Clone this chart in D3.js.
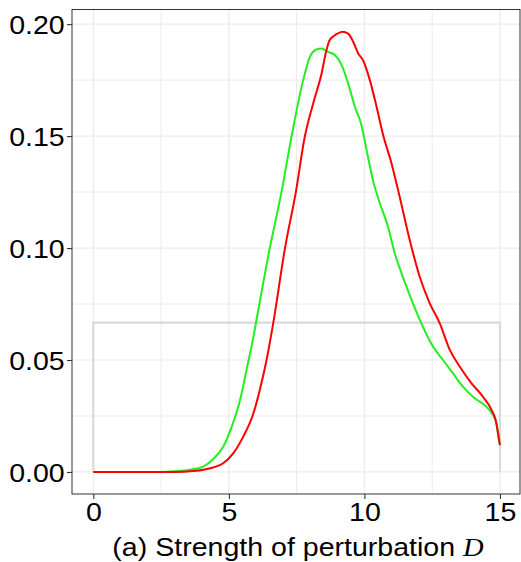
<!DOCTYPE html>
<html>
<head>
<meta charset="utf-8">
<title>Strength of perturbation D</title>
<script src="https://d3js.org/d3.v7.min.js"></script>
<style>
body { margin: 0; padding: 0; background: #fff; }
</style>
</head>
<body>
<div id="chart"></div>
<script>
// density estimates
var greenX = [0, 2.5, 3.0, 3.56, 4.05, 4.42, 4.79, 5.10, 5.41, 5.65, 5.90, 6.02, 6.51, 6.94, 7.31, 7.74, 7.99, 8.23, 8.42, 8.66, 8.91, 9.16, 9.40, 9.65, 9.89, 10.08, 10.32, 10.57, 10.87, 11.12, 11.37, 11.67, 12.10, 12.53, 12.9, 13.27, 13.64, 14.07, 14.5, 14.74, 14.87, 14.97, 15.0];
var greenY = [0, 0, 0.0003, 0.001, 0.0024, 0.0057, 0.0113, 0.020, 0.032, 0.0455, 0.060, 0.068, 0.1, 0.125, 0.1497, 0.175, 0.1854, 0.1887, 0.1891, 0.1876, 0.1862, 0.1817, 0.1735, 0.163, 0.155, 0.1438, 0.130, 0.120, 0.1095, 0.0976, 0.0887, 0.079, 0.0664, 0.056, 0.050, 0.044, 0.038, 0.0329, 0.0292, 0.0254, 0.0217, 0.0135, 0.012];

var redX = [0, 3.0, 3.69, 4.42, 4.79, 5.16, 5.53, 5.90, 6.14, 6.39, 6.63, 7.07, 7.47, 7.80, 8.11, 8.42, 8.60, 8.72, 8.97, 9.19, 9.40, 9.59, 9.77, 9.95, 10.2, 10.45, 10.69, 11.0, 11.30, 11.67, 12.04, 12.41, 12.78, 13.15, 13.52, 13.95, 14.32, 14.69, 14.84, 14.93, 14.97, 15.0];
var redY = [0, 0, 0.0004, 0.002, 0.0039, 0.0083, 0.0158, 0.026, 0.0366, 0.05, 0.066, 0.1, 0.125, 0.1497, 0.1646, 0.178, 0.1884, 0.1929, 0.1955, 0.1966, 0.1958, 0.192, 0.1869, 0.1839, 0.175, 0.163, 0.1505, 0.1378, 0.1229, 0.1036, 0.0872, 0.0753, 0.0664, 0.0545, 0.047, 0.0396, 0.0344, 0.0277, 0.0232, 0.0173, 0.0143, 0.012];

// uniform prior on [0, 15]
var unifX = [0, 0, 15, 15];
var unifY = [0, 1 / 15, 1 / 15, 0];

var xTicks = [0, 5, 10, 15];
var xMinor = [2.5, 7.5, 12.5];
var yTicks = [0, 0.05, 0.10, 0.15, 0.20];
var yMinor = [0.025, 0.075, 0.125, 0.175];

var W = 521, H = 562;
var panel = {left: 72, right: 520, top: 9.5, bottom: 494};

var svg = d3.select('#chart').append('svg')
    .attr('width', W)
    .attr('height', H);

var x = d3.scaleLinear().domain([-0.75, 15.75]).range([73, 520.3]);
var y = d3.scaleLinear().domain([-0.00984, 0.20654]).range([panel.bottom, panel.top]);

// grid
var grid = svg.append('g');
grid.selectAll('.vminor').data(xMinor).enter().append('line')
    .attr('x1', d => x(d)).attr('x2', d => x(d))
    .attr('y1', panel.top).attr('y2', panel.bottom)
    .attr('stroke', '#ebebeb').attr('stroke-width', 1);
grid.selectAll('.hminor').data(yMinor).enter().append('line')
    .attr('y1', d => y(d)).attr('y2', d => y(d))
    .attr('x1', panel.left).attr('x2', panel.right)
    .attr('stroke', '#ebebeb').attr('stroke-width', 1);
grid.selectAll('.vmajor').data(xTicks).enter().append('line')
    .attr('x1', d => x(d)).attr('x2', d => x(d))
    .attr('y1', panel.top).attr('y2', panel.bottom)
    .attr('stroke', '#ebebeb').attr('stroke-width', 1.2);
grid.selectAll('.hmajor').data(yTicks).enter().append('line')
    .attr('y1', d => y(d)).attr('y2', d => y(d))
    .attr('x1', panel.left).attr('x2', panel.right)
    .attr('stroke', '#ebebeb').attr('stroke-width', 1.2);

// curves
var line = d3.line()
    .x(d => x(d[0]))
    .y(d => y(d[1]));

svg.append('path')
    .datum(d3.zip(unifX, unifY))
    .attr('d', line.curve(d3.curveLinear))
    .attr('fill', 'none')
    .attr('stroke', '#d9d9d9')
    .attr('stroke-width', 2.2);

var smooth = d3.line()
    .x(d => x(d[0]))
    .y(d => y(d[1]))
    .curve(d3.curveMonotoneX);

svg.append('path')
    .datum(d3.zip(greenX, greenY))
    .attr('d', smooth)
    .attr('fill', 'none')
    .attr('stroke', '#22ee22')
    .attr('stroke-width', 2);

svg.append('path')
    .datum(d3.zip(redX, redY))
    .attr('d', smooth)
    .attr('fill', 'none')
    .attr('stroke', '#ff0000')
    .attr('stroke-width', 2);

// panel border
svg.append('rect')
    .attr('x', panel.left).attr('y', panel.top)
    .attr('width', panel.right - panel.left)
    .attr('height', panel.bottom - panel.top)
    .attr('fill', 'none')
    .attr('stroke', '#333')
    .attr('stroke-width', 1);

// axes
var xAxis = svg.append('g')
    .attr('transform', 'translate(0,' + panel.bottom + ')')
    .call(d3.axisBottom(x).tickValues(xTicks).tickSize(5).tickPadding(6).tickFormat(d3.format('d')));
var yAxis = svg.append('g')
    .attr('transform', 'translate(' + panel.left + ',0)')
    .call(d3.axisLeft(y).tickValues(yTicks).tickSize(5).tickPadding(6).tickFormat(d3.format('.2f')));

[xAxis, yAxis].forEach(function(a) {
  a.select('.domain').remove();
  a.selectAll('.tick line').attr('stroke', '#333').attr('stroke-width', 1.1);
  a.selectAll('text')
    .attr('fill', '#000')
    .style('font-family', '"Liberation Sans", Arial, sans-serif')
    .style('font-size', '25.5px');
});

// text is a bit wider than tall in the reference, stretch it horizontally
xAxis.selectAll('.tick text')
    .attr('dy', null)
    .attr('y', 27)
    .attr('transform', 'scale(1.12,1)');
yAxis.selectAll('.tick text')
    .attr('dy', '0.36em')
    .attr('x', -6.5)
    .attr('transform', 'scale(1.12,1)');

var title = svg.append('text')
    .attr('text-anchor', 'middle')
    .attr('transform', 'translate(' + 298 + ',' + 556 + ') scale(1.12,1)')
    .style('font-family', '"Liberation Sans", Arial, sans-serif')
    .style('font-size', '25.5px')
    .attr('fill', '#000');
title.append('tspan').text('(a) Strength of perturbation ');
title.append('tspan')
    .style('font-family', '"Liberation Serif", "DejaVu Serif", serif')
    .style('font-style', 'italic')
    .text('D');
</script>
</body>
</html>
